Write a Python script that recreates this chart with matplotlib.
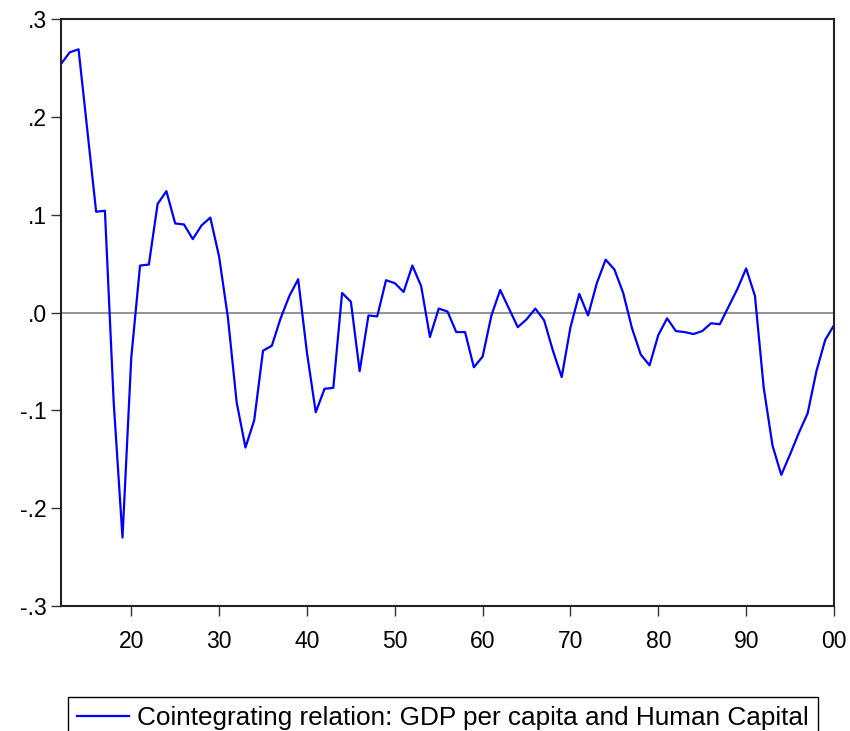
import matplotlib
matplotlib.use("Agg")
import matplotlib.pyplot as plt
from matplotlib import font_manager as fm
import numpy as np

years = list(range(1912, 2001))
values = [
    0.254, 0.266, 0.269, 0.186, 0.103, 0.104, -0.092, -0.230, -0.046, 0.048,   # 1912-1921
    0.049, 0.111, 0.124, 0.091, 0.090, 0.075, 0.089, 0.097, 0.057, -0.005,     # 1922-1931
    -0.092, -0.138, -0.110, -0.039, -0.034, -0.006, 0.017, 0.034, -0.041, -0.102,  # 1932-1941
    -0.078, -0.077, 0.020, 0.011, -0.060, -0.003, -0.004, 0.033, 0.030, 0.021,  # 1942-1951
    0.048, 0.027, -0.025, 0.004, 0.001, -0.020, -0.020, -0.056, -0.045, -0.003,  # 1952-1961
    0.023, 0.004, -0.015, -0.007, 0.004, -0.008, -0.039, -0.066, -0.015, 0.019,  # 1962-1971
    -0.003, 0.030, 0.054, 0.044, 0.020, -0.016, -0.043, -0.054, -0.023, -0.006,  # 1972-1981
    -0.019, -0.020, -0.022, -0.019, -0.011, -0.012, 0.006, 0.024, 0.045, 0.017,  # 1982-1991
    -0.077, -0.136, -0.166, -0.145, -0.123, -0.103, -0.060, -0.028, -0.013,      # 1992-2000
]
series_label = "Cointegrating relation: GDP per capita and Human Capital"
x_ticks = [1920, 1930, 1940, 1950, 1960, 1970, 1980, 1990, 2000]
x_ticklabels = ["20", "30", "40", "50", "60", "70", "80", "90", "00"]
y_ticks = [-0.3, -0.2, -0.1, 0.0, 0.1, 0.2, 0.3]
y_ticklabels = ["-.3", "-.2", "-.1", ".0", ".1", ".2", ".3"]

names = {f.name for f in fm.fontManager.ttflist}
fam = "Liberation Sans Narrow" if "Liberation Sans Narrow" in names else "Liberation Sans"
plt.rcParams['font.family'] = [fam, 'DejaVu Sans']

W, H = 850, 731
fig = plt.figure(figsize=(W / 100, H / 100), dpi=100)
ax = fig.add_axes([61 / W, 1 - 606 / H, (834 - 61) / W, (606 - 19) / H])

ax.axhline(0, color="#808080", lw=1.2, zorder=1)
line, = ax.plot(years, values, color="#0000FF", lw=1.6, zorder=2, label=series_label)

ax.set_xlim(1912, 2000)
ax.set_ylim(-0.3, 0.3)
ax.set_xticks(x_ticks)
ax.set_xticklabels(x_ticklabels)
ax.set_yticks(y_ticks)
ax.set_yticklabels(y_ticklabels)
ax.tick_params(axis="both", direction="out", length=7, width=1, labelsize=16.5, color="#333333")
ax.tick_params(axis="x", pad=10)
ax.tick_params(axis="y", pad=3)
for s in ax.spines.values():
    s.set_linewidth(1.5)
    s.set_color("#222222")

leg = fig.legend(handles=[line], loc="upper left",
                 bbox_to_anchor=(68 / W, 1 - 697 / H),
                 fontsize=18.8, frameon=True, fancybox=False,
                 edgecolor="black", framealpha=1, handlelength=2.0,
                 handletextpad=0.3, borderpad=0.35, borderaxespad=0)
leg.get_frame().set_linewidth(1.0)

fig.savefig("out.png", dpi=100)
